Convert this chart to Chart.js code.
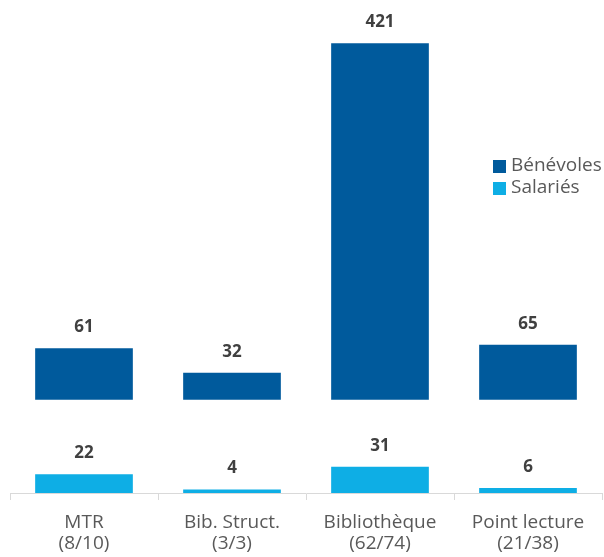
<!DOCTYPE html>
<html>
<head>
<meta charset="utf-8">
<script src="https://cdn.jsdelivr.net/npm/chart.js@4"></script>
<style>
  html, body { margin: 0; padding: 0; background: #fff; }
  #wrap { width: 604px; height: 557px; }
</style>
</head>
<body>
<div id="wrap"><canvas id="chart"></canvas></div>
<script>
const categories = [
  ["MTR", "(8/10)"],
  ["Bib. Struct.", "(3/3)"],
  ["Bibliothèque", "(62/74)"],
  ["Point lecture", "(21/38)"],
];
const benevoles = [61, 32, 421, 65];
const salaries = [22, 4, 31, 6];
const seriesNames = ["Bénévoles", "Salariés"];
const colors = ["#005a9c", "#0eaee5"];

// Bénévoles sit on a raised baseline, above the Salariés row
const upperBase = 110;

const fontFamily = "'Open Sans', sans-serif";

const valueLabels = {
  id: "valueLabels",
  afterDatasetsDraw(chart) {
    const { ctx } = chart;
    ctx.save();
    ctx.font = `bold 17px ${fontFamily}`;
    ctx.fillStyle = "#404040";
    ctx.textAlign = "center";
    ctx.textBaseline = "middle";
    const sets = [benevoles, salaries];
    chart.data.datasets.forEach((ds, i) => {
      chart.getDatasetMeta(i).data.forEach((bar, j) => {
        ctx.fillText(String(sets[i][j]), bar.x, bar.y - 21);
      });
    });
    ctx.restore();
  },
};

const sideLegend = {
  id: "sideLegend",
  afterDraw(chart) {
    const { ctx } = chart;
    ctx.save();
    ctx.font = `19px ${fontFamily}`;
    ctx.textBaseline = "middle";
    seriesNames.forEach((name, i) => {
      const y = 166 + i * 22;
      ctx.fillStyle = colors[i];
      ctx.fillRect(493, y - 6, 13, 13);
      ctx.fillStyle = "#595959";
      ctx.fillText(name, 511, y);
    });
    ctx.restore();
  },
};

new Chart(document.getElementById("chart"), {
  type: "bar",
  data: {
    labels: categories,
    datasets: [
      {
        label: seriesNames[0],
        data: benevoles.map((v) => [upperBase, upperBase + v]),
        backgroundColor: colors[0],
        grouped: false,
        categoryPercentage: 1,
        barPercentage: 0.66,
      },
      {
        label: seriesNames[1],
        data: salaries,
        backgroundColor: colors[1],
        grouped: false,
        categoryPercentage: 1,
        barPercentage: 0.66,
      },
    ],
  },
  options: {
    responsive: true,
    maintainAspectRatio: false,
    animation: false,
    layout: { padding: { left: 10, right: 2, top: 0, bottom: 0 } },
    plugins: {
      legend: { display: false },
      tooltip: { enabled: false },
    },
    scales: {
      x: {
        afterFit(scale) {
          scale.height = 64;
        },
        grid: {
          display: true,
          drawOnChartArea: false,
          drawTicks: true,
          tickLength: 7,
          color: "#d9d9d9",
        },
        border: { display: true, color: "#d9d9d9" },
        ticks: {
          color: "#595959",
          font: { family: fontFamily, size: 19, lineHeight: 1.12 },
          padding: 12,
          maxRotation: 0,
        },
      },
      y: {
        display: false,
        min: 0,
        max: 582,
      },
    },
  },
  plugins: [valueLabels, sideLegend],
});
</script>
</body>
</html>
